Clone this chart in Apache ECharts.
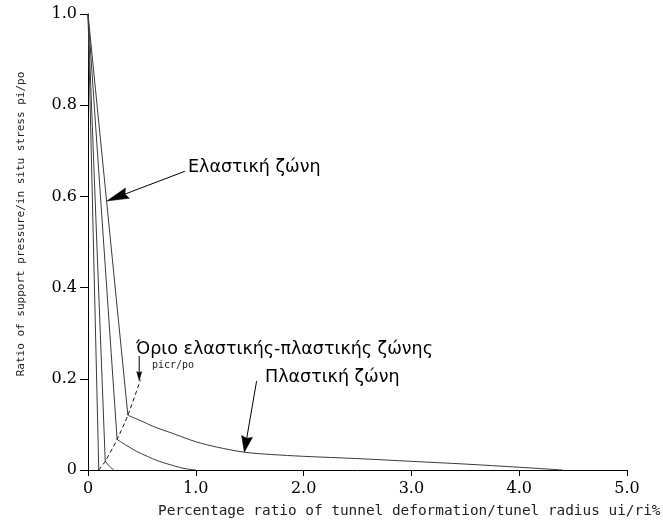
<!DOCTYPE html>
<html>
<head>
<meta charset="utf-8">
<script src="https://cdn.jsdelivr.net/npm/echarts@6/dist/echarts.min.js"></script>
<style>
  html, body { margin: 0; padding: 0; background: #fff; }
  #chart { width: 663px; height: 524px; }
</style>
</head>
<body>
<div id="chart"></div>
<script>
// Tick labels
const xTickLabels = ['0', '1.0', '2.0', '3.0', '4.0', '5.0'];
const yTickLabels = ['0', '0.2', '0.4', '0.6', '0.8', '1.0'];

// End of the elastic branch (critical support pressure) for each case
const criticalX = [0.10, 0.16, 0.27, 0.37];
const criticalY = [0.000, 0.019, 0.067, 0.120];

// Plastic branches of the ground reaction curves
const plasticBX = [0.16, 0.20, 0.24];
const plasticBY = [0.019, 0.008, 0.000];
const plasticCX = [0.27, 0.35, 0.45, 0.55, 0.65, 0.80, 0.90, 1.00];
const plasticCY = [0.067, 0.055, 0.041, 0.030, 0.020, 0.009, 0.003, 0.000];
const plasticDX = [0.37, 0.50, 0.60, 0.80, 1.00, 1.20, 1.45, 1.70, 2.00, 2.50, 3.00, 3.50, 4.00, 4.40];
const plasticDY = [0.120, 0.107, 0.096, 0.079, 0.062, 0.050, 0.039, 0.034, 0.030, 0.025, 0.019, 0.013, 0.006, 0.000];

// Elastic-plastic boundary (locus of critical points)
const boundaryX = [0.10, 0.16, 0.27, 0.37, 0.487];
const boundaryY = [0.000, 0.019, 0.067, 0.120, 0.198];

// Annotation arrows: tail -> tip, in data units
const arrowTailX = [0.898, 0.475, 1.564];
const arrowTailY = [0.655, 0.250, 0.195];
const arrowTipX = [0.175, 0.475, 1.450];
const arrowTipY = [0.590, 0.196, 0.039];

const zip = (xs, ys) => xs.map((x, i) => [x, ys[i]]);

const curveColor = '#3a3a3a';
const series = [];

criticalX.forEach((cx, i) => {
  series.push({
    type: 'line',
    data: [[0, 1], [cx, criticalY[i]]],
    symbol: 'none',
    lineStyle: { color: curveColor, width: 1 },
    silent: true
  });
});

[[plasticBX, plasticBY], [plasticCX, plasticCY], [plasticDX, plasticDY]].forEach(([xs, ys]) => {
  series.push({
    type: 'line',
    data: zip(xs, ys),
    symbol: 'none',
    smooth: 0.3,
    lineStyle: { color: curveColor, width: 1 },
    silent: true
  });
});

series.push({
  type: 'line',
  data: zip(boundaryX, boundaryY),
  symbol: 'none',
  smooth: 0.2,
  lineStyle: { color: '#111', width: 1, type: [4, 3] },
  silent: true
});

const chart = echarts.init(document.getElementById('chart'), null, { renderer: 'canvas' });

const option = {
  animation: false,
  backgroundColor: '#fff',
  grid: { left: 88, right: 36, top: 14, bottom: 54, containLabel: false },
  xAxis: {
    type: 'value',
    min: 0, max: 5, interval: 1,
    axisLine: { show: true, lineStyle: { color: '#000', width: 1 } },
    axisTick: { show: true, length: 6, lineStyle: { color: '#000', width: 1 } },
    axisLabel: {
      margin: 11,
      fontFamily: 'DejaVu Serif', fontSize: 16, color: '#000',
      formatter: v => xTickLabels[Math.round(v)]
    },
    splitLine: { show: false }
  },
  yAxis: {
    type: 'value',
    min: 0, max: 1, interval: 0.2,
    axisLine: { show: true, lineStyle: { color: '#000', width: 1 } },
    axisTick: { show: true, length: 8, lineStyle: { color: '#000', width: 1 } },
    axisLabel: {
      margin: 11,
      fontFamily: 'DejaVu Serif', fontSize: 16, color: '#000',
      formatter: v => yTickLabels[Math.round(v / 0.2)]
    },
    splitLine: { show: false }
  },
  series: series
};

chart.setOption(option);

// Arrows and texts
const arrowHeadLen = [22, 9, 16];
const arrowHeadWid = [11, 5, 11];
const graphics = [];

arrowTailX.forEach((_, i) => {
  const s = chart.convertToPixel({ gridIndex: 0 }, [arrowTailX[i], arrowTailY[i]]);
  const t = chart.convertToPixel({ gridIndex: 0 }, [arrowTipX[i], arrowTipY[i]]);
  const dx = t[0] - s[0], dy = t[1] - s[1];
  const d = Math.hypot(dx, dy);
  const ux = dx / d, uy = dy / d;
  const nx = -uy, ny = ux;
  const L = arrowHeadLen[i], W = arrowHeadWid[i] / 2;
  const bx = t[0] - ux * L, by = t[1] - uy * L;
  const notch = L * 0.12;
  graphics.push({
    type: 'line',
    shape: { x1: s[0], y1: s[1], x2: bx + ux * notch, y2: by + uy * notch },
    style: { stroke: '#000', lineWidth: 1 },
    silent: true
  });
  graphics.push({
    type: 'polygon',
    shape: {
      points: [
        [t[0], t[1]],
        [bx + nx * W, by + ny * W],
        [bx + ux * notch, by + uy * notch],
        [bx - nx * W, by - ny * W]
      ]
    },
    style: { fill: '#000', stroke: '#000', lineWidth: 0.5 },
    silent: true
  });
});

const sans = 'DejaVu Sans';
const mono = 'DejaVu Sans Mono';
graphics.push(
  { type: 'text', left: 188, top: 158, silent: true,
    style: { text: 'Ελαστική ζώνη', font: '17.5px "' + sans + '"', fill: '#000' } },
  { type: 'text', left: 136, top: 340, silent: true,
    style: { text: 'Όριο ελαστικής-πλαστικής ζώνης', font: '17.5px "' + sans + '"', fill: '#000' } },
  { type: 'text', left: 152, top: 360, silent: true,
    style: { text: 'picr/po', font: '10px "' + mono + '"', fill: '#222' } },
  { type: 'text', left: 265, top: 368, silent: true,
    style: { text: 'Πλαστική ζώνη', font: '17.5px "' + sans + '"', fill: '#000' } },
  { type: 'text', x: 21, y: 224, rotation: Math.PI / 2, silent: true,
    style: { text: 'Ratio of support pressure/in situ stress pi/po',
      font: '11px "' + mono + '"', fill: '#222', align: 'center', verticalAlign: 'middle' } },
  { type: 'text', x: 158, y: 511, silent: true,
    style: { text: 'Percentage ratio of tunnel deformation/tunel radius ui/ri%',
      font: '14.4px "' + mono + '"', fill: '#222', align: 'left', verticalAlign: 'middle' } }
);

chart.setOption({ graphic: graphics });
</script>
</body>
</html>
